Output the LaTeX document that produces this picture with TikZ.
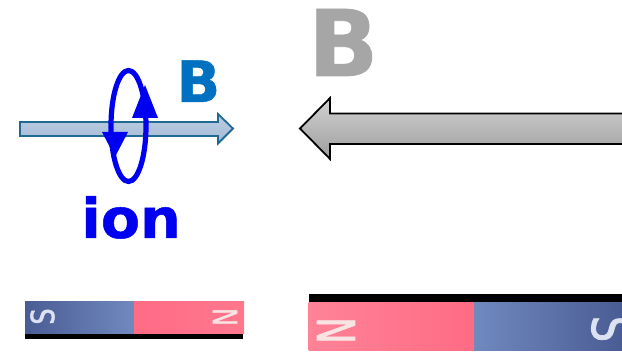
\documentclass[tikz,border=0pt]{standalone}
\usepackage{fontspec}
\setmainfont{DejaVu Sans}
\newfontfamily\heavyfont[FakeBold=0.8]{DejaVu Sans Bold}
\newfontfamily\midfont[FakeBold=1.6]{DejaVu Sans}
\definecolor{fieldblue}{HTML}{0070C0}
\definecolor{ionblue}{HTML}{0000F0}
\definecolor{fieldgrey}{HTML}{A6A6A6}
\definecolor{shaftedge}{HTML}{1F6A92}
\definecolor{shafttop}{HTML}{BCCDE3}
\definecolor{shaftbot}{HTML}{A4BAD6}
\definecolor{poleblue}{HTML}{4A5C94}
\definecolor{polebluelight}{HTML}{7089BE}
\definecolor{polered}{HTML}{FF6C84}
\definecolor{polepale}{HTML}{F8E4E2}
\definecolor{polelilac}{HTML}{DCE2F2}
\tikzset{
  bigletter/.style={inner sep=0pt,anchor=base west,font=\heavyfont\fontsize{#1}{#1}\selectfont},
  orbit/.style={draw=ionblue,line width=5.2pt},
  orbithead/.style={fill=ionblue,draw=none},
  polemark/.style={inner sep=0pt,font=\midfont\fontsize{#1}{#1}\selectfont},
}
\newcommand{\widen}[2]{\scalebox{#1}[1]{#2}}
\begin{document}
\begin{tikzpicture}[x=1pt,y=-1pt]
\useasboundingbox (0,0) rectangle (622,352);

% field arrow through the ion orbit
\path[draw=shaftedge,line width=1.8pt,top color=shafttop,bottom color=shaftbot]
  (20,122) -- (218,122) -- (218,114) -- (233,128.5) -- (218,143.5) -- (218,136) -- (20,136) -- cycle;
\draw[orbit] (128.5,126) ellipse [x radius=17.5,y radius=55.5];
\fill[orbithead] (145,85) -- (158,118) -- (132,118) -- cycle;
\fill[orbithead] (115,157) -- (102,132) -- (128,132) -- cycle;
\node[bigletter=57,text=fieldblue] (fieldlabel) at (176.5,102) {B};
\node[bigletter=55,text=ionblue] (ionlabel) at (81,238) {\widen{1.04}{ion}};

% large field arrow
\node[bigletter=92,text=fieldgrey] (biglabel) at (308,76) {B};
\path[draw=black,line width=1.8pt,top color=black!18,bottom color=black!38,line join=miter]
  (630,113.5) -- (330,113.5) -- (330,98) -- (300,128.5) -- (330,159) -- (330,144) -- (630,144) -- cycle;

% small bar magnet
\fill[black] (25,333) rectangle (243,339.5);
\shade[left color=poleblue,right color=polebluelight] (25,301.5) rectangle (134,334);
\shade[left color=polered,right color=polered!92!white] (134,301.5) rectangle (244,334);
\node[polemark=32,text=polelilac,rotate=90] (smalls) at (42.5,316.5) {\widen{.8}{S}};
\node[polemark=33,text=polepale,rotate=90] (smalln) at (225,317) {\widen{.72}{N}};

% large bar magnet, running off the right edge
\fill[black] (308.5,294.5) rectangle (622,303.5);
\shade[left color=polered!85!white,right color=polered] (308.5,303) rectangle (474,351);
\shade[left color=polebluelight,right color=poleblue] (474,303) rectangle (622,351);
\node[polemark=52,text=polepale,rotate=-90] (bign) at (336,330.5) {\widen{.68}{N}};
\begin{scope}
  \clip (474,303) rectangle (622,351);
  \node[polemark=52,text=polelilac,rotate=-90] (bigs) at (611,329) {\widen{.8}{S}};
\end{scope}
\end{tikzpicture}
\end{document}
